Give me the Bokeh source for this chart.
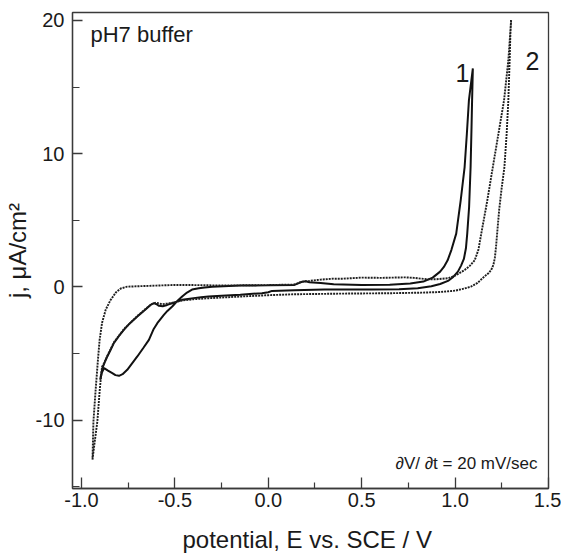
from bokeh.plotting import figure
from bokeh.models import Range1d, FixedTicker, NumeralTickFormatter, Label
from bokeh.embed import file_html
from bokeh.resources import INLINE

# ---- data ----
# curve 1 (solid): one full CV loop, starting at the cathodic tip
E1 = [-0.900, -0.888, -0.875, -0.861, -0.845, -0.826, -0.800, -0.772, -0.740, -0.701,
      -0.665, -0.630, -0.612, -0.598, -0.585, -0.565, -0.541, -0.515, -0.488, -0.461,
      -0.430, -0.400, -0.360, -0.320, -0.250, -0.150, -0.034, 0.000, 0.020, 0.140,
      0.300, 0.450, 0.553, 0.700, 0.800, 0.873, 0.920, 0.962, 0.990, 1.015,
      1.032, 1.047, 1.058, 1.065, 1.075, 1.083, 1.088, 1.091, 1.095,
      1.074, 1.063, 1.051, 1.030, 1.006, 0.980, 0.960, 0.940, 0.920, 0.880,
      0.830, 0.760, 0.650, 0.500, 0.350, 0.280, 0.220, 0.200, 0.180, 0.140,
      0.000, -0.150, -0.300, -0.340, -0.372, -0.408, -0.435, -0.461, -0.490, -0.514,
      -0.540, -0.559, -0.594, -0.615, -0.639, -0.670, -0.701, -0.730, -0.755, -0.780,
      -0.799, -0.818, -0.835, -0.858, -0.879, -0.890, -0.900]
J1 = [-6.97, -6.09, -5.65, -5.20, -4.75, -4.20, -3.70, -3.20, -2.72, -2.22,
      -1.78, -1.35, -1.22, -1.30, -1.42, -1.45, -1.35, -1.22, -1.10, -0.97,
      -0.90, -0.84, -0.78, -0.72, -0.66, -0.58, -0.47, -0.40, -0.30, -0.24,
      -0.20, -0.20, -0.20, -0.17, -0.10, 0.05, 0.22, 0.45, 0.75, 1.15,
      1.60, 2.10, 2.90, 4.00, 6.00, 9.00, 12.0, 14.0, 16.4,
      14.0, 11.5, 9.0, 6.5, 4.0, 2.77, 2.00, 1.50, 1.15, 0.70,
      0.40, 0.25, 0.17, 0.15, 0.20, 0.30, 0.35, 0.42, 0.38, 0.15,
      0.12, 0.10, 0.02, -0.04, -0.10, -0.20, -0.42, -0.72, -1.10, -1.47,
      -1.80, -2.10, -2.72, -3.20, -3.97, -4.60, -5.22, -5.75, -6.22, -6.55,
      -6.67, -6.62, -6.47, -6.28, -6.09, -6.40, -6.97]

# curve 2 (dotted): one full CV loop, starting at the cathodic tip
E2 = [-0.941, -0.928, -0.915, -0.902, -0.890, -0.880, -0.861, -0.826, -0.772, -0.701,
      -0.630, -0.600, -0.570, -0.540, -0.500, -0.461, -0.400, -0.320, -0.150, 0.000,
      0.140, 0.400, 0.660, 0.820, 0.920, 1.000, 1.050, 1.086, 1.120, 1.156,
      1.180, 1.193, 1.205, 1.213, 1.219, 1.225, 1.236, 1.250, 1.264, 1.276,
      1.285, 1.292, 1.296, 1.300,
      1.285, 1.262, 1.232, 1.202, 1.170, 1.140, 1.125, 1.105, 1.080, 1.051,
      1.000, 0.962, 0.900, 0.855, 0.780, 0.730, 0.600, 0.500, 0.400, 0.350,
      0.280, 0.220, 0.180, 0.140, 0.000, -0.150, -0.300, -0.400, -0.500, -0.600,
      -0.700, -0.755, -0.790, -0.815, -0.845, -0.870, -0.890, -0.903, -0.912, -0.924,
      -0.936, -0.941]
J2 = [-12.96, -11.5, -10.1, -7.7, -6.0, -5.75, -5.15, -4.15, -3.15, -2.18,
      -1.33, -1.18, -1.30, -1.25, -1.15, -1.02, -0.92, -0.85, -0.72, -0.62,
      -0.55, -0.50, -0.47, -0.43, -0.38, -0.28, -0.12, 0.03, 0.30, 0.77,
      1.05, 1.27, 1.65, 2.20, 3.00, 4.00, 5.80, 7.50, 9.00, 11.5,
      14.0, 17.0, 19.0, 20.05,
      17.0, 14.0, 11.5, 9.0, 6.3, 4.0, 2.8, 2.0, 1.6, 1.27,
      0.85, 0.65, 0.58, 0.57, 0.68, 0.72, 0.68, 0.70, 0.62, 0.62,
      0.55, 0.45, 0.40, 0.18, 0.14, 0.12, 0.12, 0.14, 0.15, 0.10,
      0.05, 0.02, -0.12, -0.40, -1.00, -1.70, -2.70, -4.00, -5.50, -7.70,
      -10.1, -12.96]

x_ticks = [-1.0, -0.5, 0.0, 0.5, 1.0, 1.5]
x_minor = [-0.75, -0.25, 0.25, 0.75, 1.25]
y_ticks = [-10, 0, 10, 20]
y_minor = [-15, -5, 5, 15]

FONT = "Liberation Sans"
INK = "#1a1a1a"

p = figure(width=561, height=555, output_backend="svg", toolbar_location=None,
           x_range=Range1d(-1.048, 1.5), y_range=Range1d(-15.13, 20.6),
           min_border_left=70, min_border_right=13, min_border_top=12, min_border_bottom=66)
p.background_fill_color = "white"
p.border_fill_color = "white"
p.grid.visible = False
p.outline_line_color = "#3a3a3a"
p.outline_line_width = 1.3

p.line(E1, J1, line_color="#111111", line_width=2.0)
p.line(E2, J2, line_color="#1e1e1e", line_width=1.9, line_dash="2 1")

for ax in (p.xaxis[0], p.yaxis[0]):
    ax.axis_line_color = "#3a3a3a"
    ax.axis_line_width = 1.3
    ax.major_tick_line_color = "#3a3a3a"
    ax.minor_tick_line_color = "#3a3a3a"
    ax.major_tick_line_width = 1.3
    ax.minor_tick_line_width = 1.2
    ax.major_tick_out = 0
    ax.minor_tick_out = 0
    ax.major_label_text_font = FONT
    ax.major_label_text_font_size = "20px"
    ax.major_label_text_color = INK
    ax.axis_label_text_font = FONT
    ax.axis_label_text_font_size = "24px"
    ax.axis_label_text_font_style = "normal"
    ax.axis_label_text_color = INK

p.xaxis.ticker = FixedTicker(ticks=x_ticks, minor_ticks=x_minor)
p.xaxis.formatter = NumeralTickFormatter(format="0.0")
p.xaxis.major_tick_in = 11
p.xaxis.minor_tick_in = 6
p.xaxis.major_label_standoff = 4
p.xaxis.axis_label = "potential,  E vs. SCE / V"
p.xaxis.axis_label_standoff = 16

p.yaxis.ticker = FixedTicker(ticks=y_ticks, minor_ticks=y_minor)
p.yaxis.formatter = NumeralTickFormatter(format="0")
p.yaxis.major_tick_in = 10
p.yaxis.minor_tick_in = 7
p.yaxis.major_label_standoff = 8
p.yaxis.axis_label = "j, μA/cm²"
p.yaxis.axis_label_standoff = 2

p.add_layout(Label(x=18, y=454, x_units="screen", y_units="screen", text="pH7 buffer",
                   text_font=FONT, text_font_size="22px", text_color=INK,
                   text_align="left", text_baseline="alphabetic"))
p.add_layout(Label(x=383, y=416, x_units="screen", y_units="screen", text="1",
                   text_font=FONT, text_font_size="25px", text_color=INK,
                   text_align="left", text_baseline="alphabetic"))
p.add_layout(Label(x=453, y=428, x_units="screen", y_units="screen", text="2",
                   text_font=FONT, text_font_size="25px", text_color=INK,
                   text_align="left", text_baseline="alphabetic"))
p.add_layout(Label(x=465, y=25, x_units="screen", y_units="screen",
                   text="∂V/ ∂t = 20 mV/sec",
                   text_font=FONT, text_font_size="17px", text_color=INK,
                   text_align="right", text_baseline="alphabetic"))

open("out.html", "w").write(file_html(p, INLINE))
